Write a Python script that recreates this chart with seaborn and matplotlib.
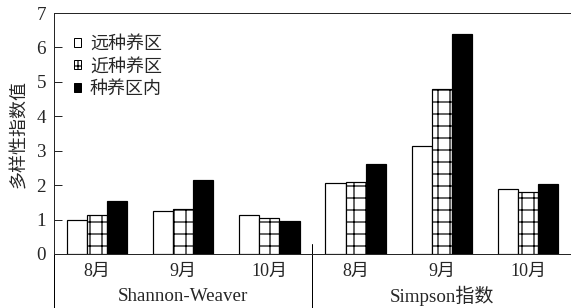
import numpy as np
import pandas as pd
import seaborn as sns
import matplotlib.pyplot as plt
from matplotlib.patches import Patch

# chart values
months = ['8月', '9月', '10月']
indices = ['Shannon-Weaver', 'Simpson指数']
sites = ['远种养区', '近种养区', '种养区内']

shannon_far = [1.00, 1.24, 1.13]
shannon_near = [1.14, 1.32, 1.06]
shannon_in = [1.54, 2.14, 0.96]

simpson_far = [2.06, 3.14, 1.88]
simpson_near = [2.10, 4.80, 1.79]
simpson_in = [2.60, 6.38, 2.03]

yticks = [0, 1, 2, 3, 4, 5, 6, 7]

# long-form table for seaborn
rows = []
values = {
    'Shannon-Weaver': [shannon_far, shannon_near, shannon_in],
    'Simpson指数': [simpson_far, simpson_near, simpson_in],
}
keys = []
for idx in indices:
    for m_i, m in enumerate(months):
        key = f'{idx}-{m}'
        keys.append(key)
        for s_i, s in enumerate(sites):
            rows.append({'key': key, 'site': s, 'value': values[idx][s_i][m_i]})
df = pd.DataFrame(rows)

sns.set_style('ticks')
plt.rcParams['font.family'] = ['Liberation Serif', 'Noto Sans CJK SC']
plt.rcParams['hatch.linewidth'] = 1.2

fig = plt.figure(figsize=(571 / 72, 308 / 72), dpi=72)
ax = fig.add_axes([54 / 571, 54 / 308, 517 / 571, 241 / 308])

palette = {'远种养区': 'white', '近种养区': 'white', '种养区内': 'black'}
sns.barplot(data=df, x='key', y='value', hue='site', order=keys, hue_order=sites,
            palette=palette, edgecolor='black', linewidth=1.2, width=0.7,
            saturation=1, legend=False, ax=ax)

for bar in ax.containers[1]:
    bar.set_hatch('+')

ax.set_xlim(-0.5, 5.5)
ax.set_ylim(0, 7)
ax.set_yticks(yticks)
ax.set_xticks(range(6))
ax.set_xticklabels(months * 2)
ax.tick_params(axis='y', direction='in', length=8, width=1, pad=8, labelsize=19)
ax.tick_params(axis='x', length=0, pad=9, labelsize=18)
ax.set_xlabel('')
ax.set_ylabel('多样性指数值', fontsize=18, labelpad=8)
ax.spines['right'].set_visible(False)
for sp in ['left', 'top', 'bottom']:
    ax.spines[sp].set_linewidth(1)

# group labels and separators below the axis
tr = ax.get_xaxis_transform()
ax.text(1, -0.175, indices[0], transform=tr, ha='center', va='center', fontsize=19)
ax.text(4, -0.175, indices[1], transform=tr, ha='center', va='center', fontsize=19)
ax.plot([2.5, 2.5], [0.04, -0.23], transform=tr, color='black', lw=1, clip_on=False)
ax.plot([-0.5, -0.5], [0, -0.23], transform=tr, color='black', lw=1, clip_on=False)

handles = [Patch(facecolor='white', edgecolor='black', linewidth=1),
           Patch(facecolor='white', edgecolor='black', linewidth=1, hatch='+'),
           Patch(facecolor='black', edgecolor='black', linewidth=1)]
ax.legend(handles, sites, loc='upper left', bbox_to_anchor=(0.038, 0.905),
          frameon=False, fontsize=18, handlelength=0.4, handleheight=0.4,
          handletextpad=0.5, labelspacing=0.3, borderpad=0, borderaxespad=0)

fig.savefig('out.png', dpi=72)
